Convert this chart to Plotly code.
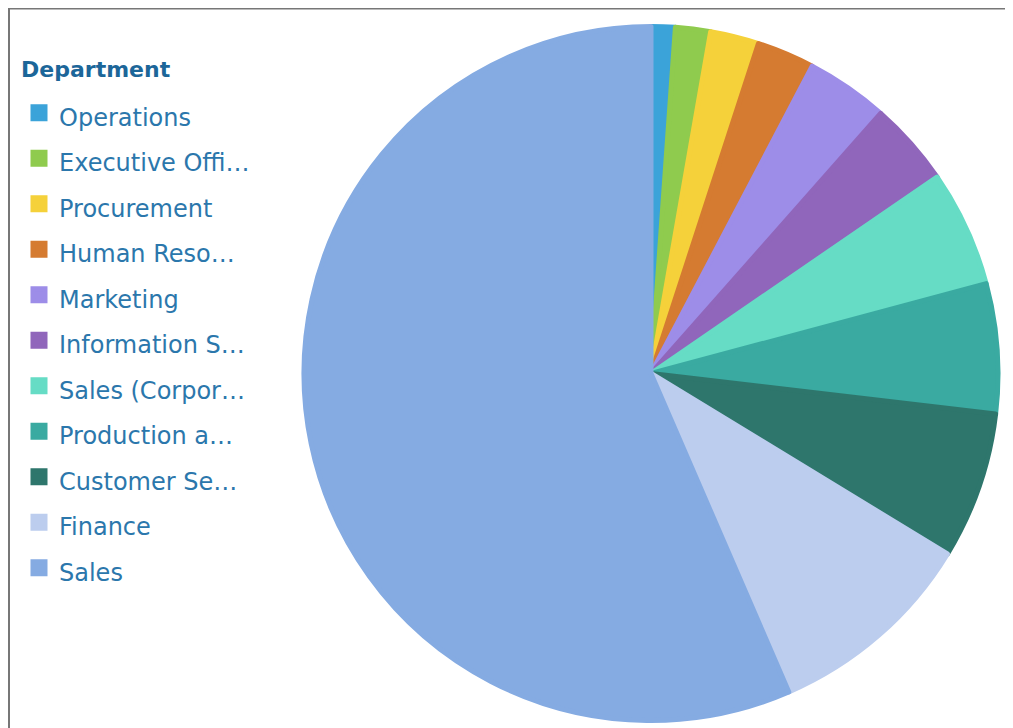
import plotly.graph_objects as go

departments = ["Operations", "Executive Office", "Procurement", "Human Resources",
               "Marketing", "Information Services", "Sales (Corporate)",
               "Production and Quality", "Customer Service", "Finance", "Sales"]
legend_labels = ["Operations", "Executive Offi…", "Procurement", "Human Reso…",
                 "Marketing", "Information S…", "Sales (Corpor…", "Production a…",
                 "Customer Se…", "Finance", "Sales"]
shares = [1.12, 1.63, 2.26, 2.68, 3.82, 3.91, 5.41, 6.03, 6.84, 9.80, 56.50]
colors = ["#3ba3d9", "#8fcb4e", "#f5d13a", "#d57b31", "#9d8de8", "#9066bb",
          "#66dcc5", "#3aaaa1", "#2e766c", "#bccdee", "#85abe2"]

# page body has an 8px margin, so the figure is sized to fit the window
W, H = 1005, 720
OFF = 8
text_color = "#2b77ac"

def px_x(x):
    return (x - OFF) / W

def px_y(y):
    return 1 - (y - OFF) / H

fig = go.Figure(go.Pie(
    labels=[f'<span style="font-size:24px">{l}</span>' for l in legend_labels],
    values=shares,
    customdata=departments,
    sort=False,
    direction="clockwise",
    rotation=0,
    marker=dict(colors=colors, line=dict(color=colors, width=5)),
    textinfo="none",
    hovertemplate="%{customdata}: %{percent}<extra></extra>",
    domain=dict(x=[px_x(304), px_x(998)], y=[px_y(720.5), px_y(26.5)]),
))

fig.update_layout(
    width=W, height=H,
    margin=dict(l=0, r=0, t=0, b=0),
    paper_bgcolor="white",
    font=dict(family="DejaVu Sans", color=text_color),
    legend=dict(
        x=px_x(19), xanchor="left",
        y=px_y(85), yanchor="top",
        font=dict(size=32.7, family="DejaVu Sans", color=text_color),
        bgcolor="rgba(0,0,0,0)",
        borderwidth=0,
    ),
    annotations=[dict(text="<b>Department</b>", xref="paper", yref="paper",
                      x=px_x(19), y=px_y(69), xanchor="left", yanchor="middle",
                      showarrow=False,
                      font=dict(size=22, family="DejaVu Sans", color="#1c6699"))],
    shapes=[dict(type="rect", xref="paper", yref="paper",
                 x0=px_x(9), x1=px_x(1009), y0=-0.05, y1=px_y(8.5),
                 line=dict(color="#777777", width=2), fillcolor="rgba(0,0,0,0)")],
)

fig.write_html("out.html")
